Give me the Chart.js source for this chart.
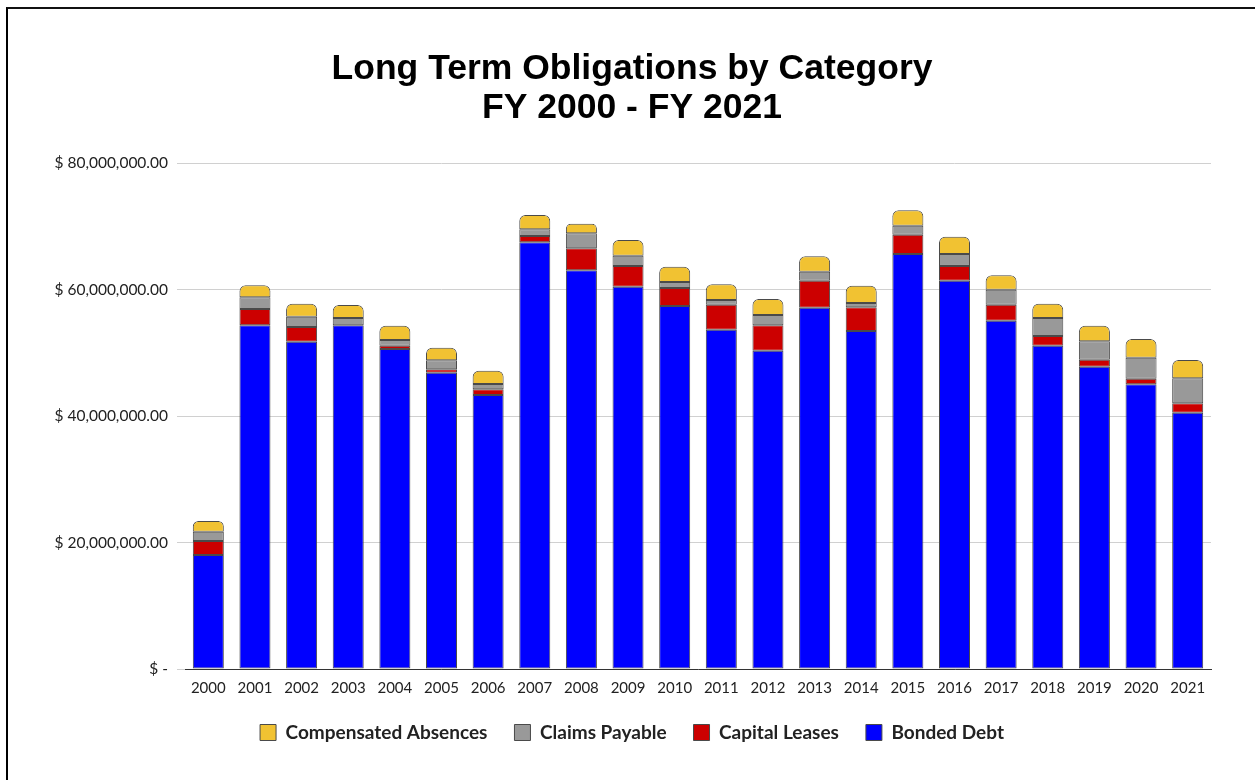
<!DOCTYPE html>
<html>
<head>
<meta charset="utf-8">
<script src="https://cdn.jsdelivr.net/npm/chart.js@4"></script>
<style>
  body { margin: 0; background: #fff; }
  #wrap { position: relative; width: 1255px; height: 780px; }
  #frame {
    position: absolute; left: 6px; top: 7px; right: -10px; bottom: -10px;
    border-left: 2px solid #000; border-top: 2px solid #111;
    pointer-events: none;
  }
</style>
</head>
<body>
<div id="wrap">
  <canvas id="oblChart" width="1255" height="780"></canvas>
  <div id="frame"></div>
</div>
<script>
// fiscal years
var years = ["2000", "2001", "2002", "2003", "2004", "2005", "2006", "2007", "2008", "2009", "2010",
  "2011", "2012", "2013", "2014", "2015", "2016", "2017", "2018", "2019", "2020", "2021"];

// values in millions of dollars
var bondedDebt = [18.02, 54.34, 51.75, 54.34, 50.59, 46.85, 43.32, 67.46, 63.03, 60.44, 57.39,
  53.65, 50.33, 57.12, 53.44, 65.61, 61.39, 55.07, 51.12, 47.80, 45.01, 40.52];
var capitalLeases = [2.22, 2.58, 2.32, 0.0, 0.53, 0.53, 0.90, 1.00, 3.48, 3.28, 2.85,
  3.95, 4.01, 4.27, 3.74, 3.05, 2.33, 2.53, 1.53, 1.11, 0.89, 1.49];
var claimsPayable = [1.47, 1.85, 1.63, 1.15, 0.90, 1.42, 0.84, 1.06, 2.37, 1.62, 0.95,
  0.74, 1.63, 1.42, 0.69, 1.43, 1.89, 2.37, 2.84, 2.90, 3.32, 3.95];
var compAbsences = [1.69, 1.89, 2.06, 2.06, 2.26, 2.00, 2.10, 2.26, 1.52, 2.49, 2.42,
  2.48, 2.53, 2.44, 2.73, 2.43, 2.74, 2.27, 2.27, 2.47, 2.95, 2.89];

var yTicks = [0, 20000000, 40000000, 60000000, 80000000];

function toDollars(arr) {
  return arr.map(function (v) { return Math.round(v * 1000000); });
}

document.addEventListener("DOMContentLoaded", function () {
  var ctx = document.getElementById("oblChart").getContext("2d");
  var edge = "#4a4a4a";

  new Chart(ctx, {
    type: "bar",
    data: {
      labels: years,
      datasets: [
        { label: "Bonded Debt", data: toDollars(bondedDebt), backgroundColor: "#0000ff",
          borderColor: edge, borderWidth: 1, borderSkipped: false },
        { label: "Capital Leases", data: toDollars(capitalLeases), backgroundColor: "#cc0000",
          borderColor: edge, borderWidth: 1, borderSkipped: false },
        { label: "Claims Payable", data: toDollars(claimsPayable), backgroundColor: "#999999",
          borderColor: edge, borderWidth: 1, borderSkipped: false },
        { label: "Compensated Absences", data: toDollars(compAbsences), backgroundColor: "#f1c232",
          borderColor: edge, borderWidth: 1, borderSkipped: false,
          borderRadius: { topLeft: 6, topRight: 6, bottomLeft: 0, bottomRight: 0 } },
      ],
    },
    options: {
      responsive: false,
      animation: false,
      layout: { padding: { left: 53, right: 44, top: 0, bottom: 28 } },
      datasets: { bar: { barPercentage: 0.665, categoryPercentage: 1.0 } },
      plugins: {
        title: {
          display: true,
          text: ["Long Term Obligations by Category", "FY 2000 - FY 2021"],
          color: "#000",
          font: { family: "'Liberation Sans', Arial, sans-serif", size: 35.5, weight: "bold", lineHeight: "39px" },
          padding: { top: 50, bottom: 35 },
        },
        legend: {
          position: "bottom",
          reverse: true,
          labels: {
            color: "#222",
            font: { family: "Lato, sans-serif", size: 19, weight: "bold" },
            boxWidth: 16,
            boxHeight: 16,
            padding: 27,
          },
        },
        tooltip: { enabled: false },
      },
      scales: {
        x: {
          stacked: true,
          grid: { display: false },
          border: { display: true, color: "#333", width: 1 },
          ticks: { color: "#222", font: { family: "Lato, sans-serif", size: 15 }, padding: 2 },
          afterFit: function (scale) { scale.height = 27; },
        },
        y: {
          stacked: true,
          min: 0,
          max: 80000000,
          afterBuildTicks: function (scale) {
            scale.ticks = yTicks.map(function (v) { return { value: v }; });
          },
          afterFit: function (scale) { scale.width = 132; },
          grid: { color: "#d0d0d0", drawTicks: true, tickLength: 8, tickColor: "#d0d0d0" },
          border: { display: false },
          ticks: {
            color: "#222",
            padding: 9,
            font: { family: "Lato, sans-serif", size: 15.5 },
            callback: function (value) {
              if (value === 0) return "$ -";
              return "$ " + value.toLocaleString("en-US", { minimumFractionDigits: 2, maximumFractionDigits: 2 });
            },
          },
        },
      },
    },
  });
});
</script>
</body>
</html>
